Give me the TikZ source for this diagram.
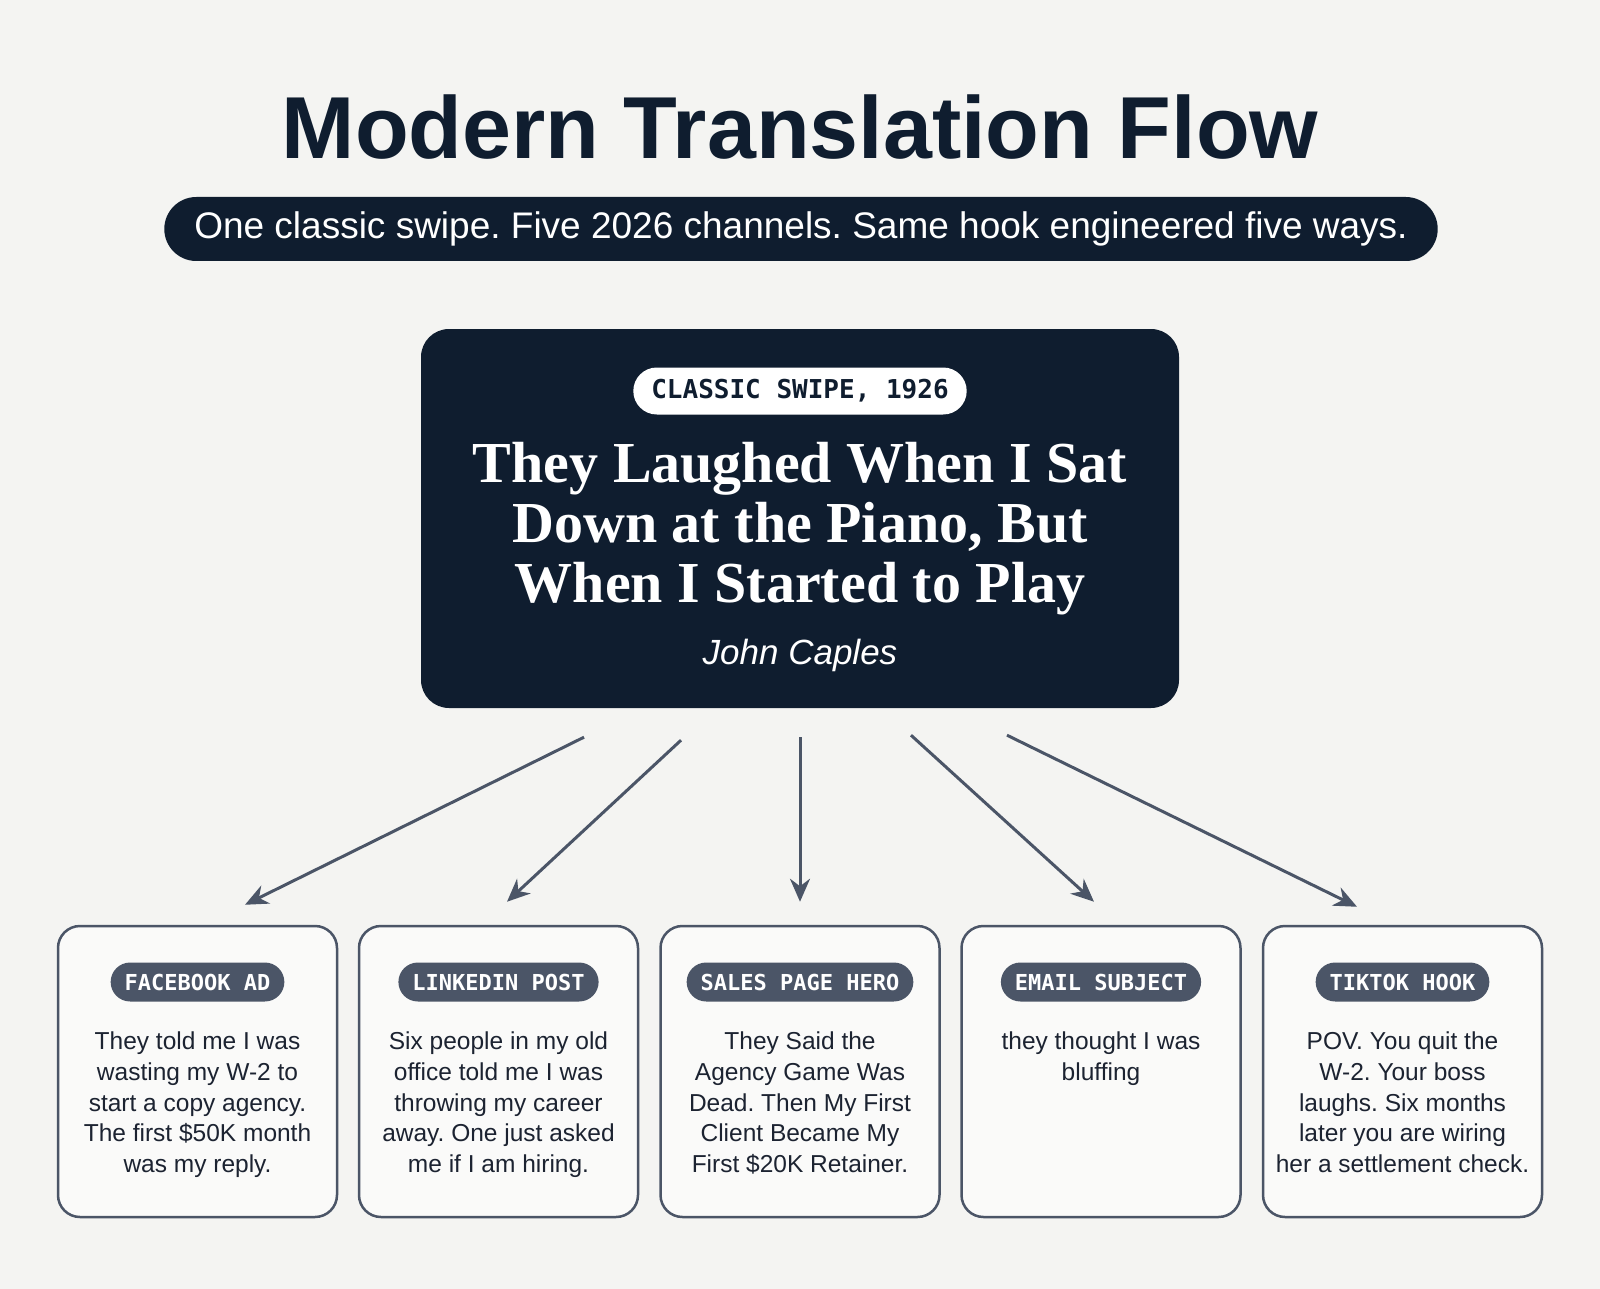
\documentclass[tikz,border=0pt]{standalone}
\usepackage{fontspec}
\setmainfont{Liberation Sans}
\setmonofont{DejaVu Sans Mono}
\newfontfamily\headfont{Liberation Serif}
\usetikzlibrary{arrows.meta}
\frenchspacing

\definecolor{navy}{HTML}{0F1D2F}
\definecolor{slate}{HTML}{4B5567}
\definecolor{paper}{HTML}{F4F4F2}
\definecolor{ink}{HTML}{1C2331}

\begin{document}
\begin{tikzpicture}[x=1pt, y=-1pt,
    tag/.style={fill=slate, text=white, rounded corners=19.5pt, minimum height=39pt,
        inner xsep=14pt, inner ysep=0pt, font=\fontsize{22}{22}\selectfont\ttfamily\bfseries},
    card/.style={draw=slate, line width=2.5pt, fill=white!55!paper, rounded corners=22pt,
        minimum width=279pt, minimum height=291pt},
    body/.style={anchor=north, align=center, inner sep=0pt, text=ink,
        font=\fontsize{24.5}{30.6}\selectfont},
    arr/.style={draw=slate, line width=3pt, -{Stealth[length=23pt, width=20pt]}}
]
    \fill[paper] (0, 0) rectangle (1600, 1289);
    \useasboundingbox (0, 0) rectangle (1600, 1289);

    % heading
    \node[text=navy, font=\fontsize{88}{88}\selectfont\bfseries] (title) at (800, 127) {Modern Translation Flow};
    \node[fill=navy, text=white, rounded corners=32pt, minimum height=64pt, inner xsep=30pt, inner ysep=0pt,
        font=\fontsize{37}{37}\selectfont] (sub) at (801, 229) {One classic swipe. Five 2026 channels. Same hook engineered five ways.};

    % the swipe
    \node[fill=navy, rounded corners=28pt, minimum width=758pt, minimum height=379pt] (swipe) at (800, 518.5) {};
    \node[fill=white, text=navy, rounded corners=23.5pt, minimum height=47pt, inner xsep=18pt, inner ysep=0pt,
        font=\fontsize{26}{26}\selectfont\ttfamily\bfseries] (year) at (800, 391) {CLASSIC SWIPE, 1926};
    \node[align=center, text=white, font=\fontsize{58}{60}\selectfont\headfont\bfseries] (hook) at (800, 529)
        {They Laughed When I Sat\\ Down at the Piano, But\\ When I Started to Play};
    \node[text=white, font=\fontsize{35}{35}\selectfont\itshape] (author) at (800, 655) {John Caples};

    % channels
    \node[card] (fb) at (197.5, 1071.5) {};
    \node[card] (li) at (498.5, 1071.5) {};
    \node[card] (sales) at (800, 1071.5) {};
    \node[card] (email) at (1101, 1071.5) {};
    \node[card] (tiktok) at (1402.5, 1071.5) {};

    \node[tag] (fbtag) at (197.5, 982) {FACEBOOK AD};
    \node[tag] (litag) at (498.5, 982) {LINKEDIN POST};
    \node[tag] (salestag) at (800, 982) {SALES PAGE HERO};
    \node[tag] (emailtag) at (1101, 982) {EMAIL SUBJECT};
    \node[tag] (tiktoktag) at (1402.5, 982) {TIKTOK HOOK};

    \node[body] (fbtext) at (197.5, 1032) {They told me I was\\ wasting my W-2 to\\ start a copy agency.\\ The first \$50K month\\ was my reply.};
    \node[body] (litext) at (498.5, 1032) {Six people in my old\\ office told me I was\\ throwing my career\\ away. One just asked\\ me if I am hiring.};
    \node[body] (salestext) at (800, 1032) {They Said the\\ Agency Game Was\\ Dead. Then My First\\ Client Became My\\ First \$20K Retainer.};
    \node[body] (emailtext) at (1101, 1032) {they thought I was\\ bluffing};
    \node[body] (tiktoktext) at (1402.5, 1032) {POV. You quit the\\ W-2. Your boss\\ laughs. Six months\\ later you are wiring\\ her a settlement check.};

    % arrows
    \draw[arr] ([xshift=-216pt, yshift=-29pt]swipe.south) -- ([xshift=47.5pt, yshift=20pt]fb.north);
    \draw[arr] ([xshift=-119pt, yshift=-32pt]swipe.south) -- ([xshift=8.5pt, yshift=23pt]li.north);
    \draw[arr] ([yshift=-29pt]swipe.south) -- ([yshift=23pt]sales.north);
    \draw[arr] ([xshift=111pt, yshift=-27pt]swipe.south) -- ([xshift=-7pt, yshift=23pt]email.north);
    \draw[arr] ([xshift=207pt, yshift=-27pt]swipe.south) -- ([xshift=-45.5pt, yshift=18pt]tiktok.north);
\end{tikzpicture}
\end{document}
